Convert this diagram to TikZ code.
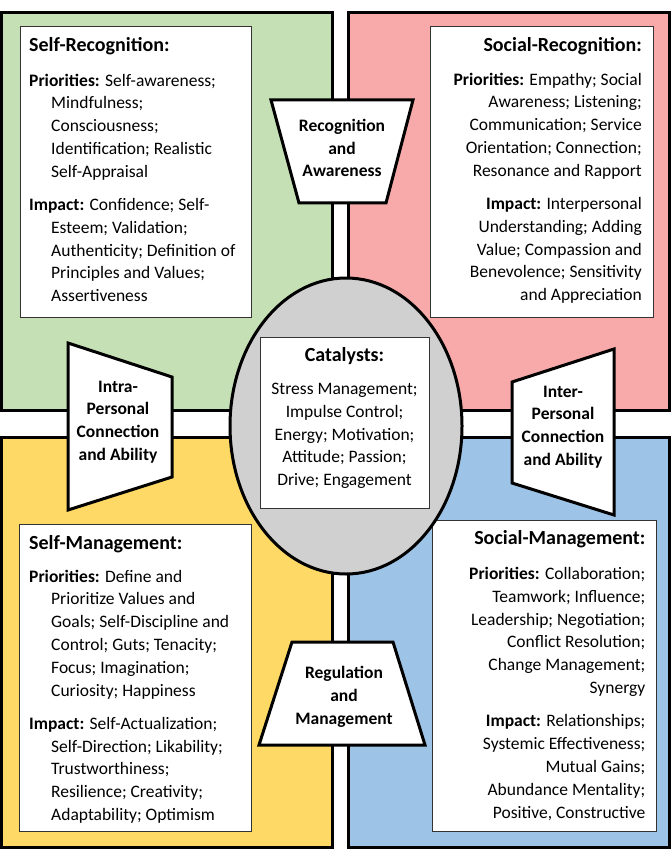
\documentclass[tikz,border=0pt]{standalone}
\usepackage{fontspec}
\setmainfont{Carlito}
\usepackage{xcolor}
\usepackage{tikz}
\definecolor{qgreen}{RGB}{197,224,180}
\definecolor{qpink}{RGB}{248,170,170}
\definecolor{qyellow}{RGB}{255,217,102}
\definecolor{qblue}{RGB}{157,195,230}
\definecolor{hubgray}{RGB}{208,208,208}
\newcommand{\indl}{\hspace*{22pt}}

\begin{document}
\begin{tikzpicture}[
    x=1pt, y=-1pt,
    quadrant/.style={draw, line width=3pt},
    textbox/.style={draw=black!80, line width=1pt, fill=white, inner sep=0pt, outer sep=0pt, anchor=north west},
    hub/.style={draw, fill=hubgray, line width=3pt},
    gate/.style={draw, line width=3pt, fill=white},
    heading/.style={font=\fontsize{20}{24}\selectfont\bfseries, inner sep=0pt},
    body/.style={font=\fontsize{17.5}{22.8}\selectfont, inner sep=0pt},
    gatelabel/.style={font=\fontsize{17.5}{22.8}\selectfont\bfseries, align=center, inner sep=0pt}
]
    \useasboundingbox (0,0) rectangle (671,850);

    % Four coloured quadrants
    \foreach \col/\xa/\ya/\xb/\yb in {
        qgreen/1.5/12.5/332/410.5,
        qpink/348/12.5/669.5/410.5,
        qyellow/1.5/437/332/847.5,
        qblue/348/437/669.5/847.5
    } {
        \draw[quadrant, fill=\col] (\xa,\ya) rectangle (\xb,\yb);
    }

    % White text boxes
    \node[textbox, minimum width=231pt, minimum height=290pt] (srbox) at (20,27) {};
    \node[textbox, minimum width=223pt, minimum height=290pt] (prbox) at (430,27) {};
    \node[textbox, minimum width=232pt, minimum height=307pt] (smbox) at (19,524) {};
    \node[textbox, minimum width=224pt, minimum height=311pt] (pmbox) at (432,520) {};

    % Self-Recognition
    \node[heading, anchor=base west] (srhead) at (29,51.5) {Self-Recognition:};
    \node[body, align=left, anchor=north west] (srtext) at (29,73.5) {%
        \textbf{Priorities:} Self-awareness;\\
        \indl Mindfulness;\\
        \indl Consciousness;\\
        \indl Identification; Realistic\\
        \indl Self-Appraisal\\[10.5pt]
        \textbf{Impact:} Confidence; Self-\\
        \indl Esteem; Validation;\\
        \indl Authenticity; Definition of\\
        \indl Principles and Values;\\
        \indl Assertiveness};

    % Social-Recognition
    \node[heading, anchor=base east] (prhead) at (642,51.5) {Social-Recognition:};
    \node[body, align=right, anchor=north east] (prtext) at (642,72.5) {%
        \textbf{Priorities:} Empathy; Social\\
        Awareness; Listening;\\
        Communication; Service\\
        Orientation; Connection;\\
        Resonance and Rapport\\[10.5pt]
        \textbf{Impact:} Interpersonal\\
        Understanding; Adding\\
        Value; Compassion and\\
        Benevolence; Sensitivity\\
        and Appreciation};

    % Self-Management
    \node[heading, anchor=base west] (smhead) at (29,549) {Self-Management:};
    \node[body, align=left, anchor=north west] (smtext) at (29,569.5) {%
        \textbf{Priorities:} Define and\\
        \indl Prioritize Values and\\
        \indl Goals; Self-Discipline and\\
        \indl Control; Guts; Tenacity;\\
        \indl Focus; Imagination;\\
        \indl Curiosity; Happiness\\[10.5pt]
        \textbf{Impact:} Self-Actualization;\\
        \indl Self-Direction; Likability;\\
        \indl Trustworthiness;\\
        \indl Resilience; Creativity;\\
        \indl Adaptability; Optimism};

    % Social-Management
    \node[heading, anchor=base east] (pmhead) at (645.5,544.5) {Social-Management:};
    \node[body, align=right, anchor=north east] (pmtext) at (645.5,567) {%
        \textbf{Priorities:} Collaboration;\\
        Teamwork; Influence;\\
        Leadership; Negotiation;\\
        Conflict Resolution;\\
        Change Management;\\
        Synergy\\[10.5pt]
        \textbf{Impact:} Relationships;\\
        Systemic Effectiveness;\\
        Mutual Gains;\\
        Abundance Mentality;\\
        Positive, Constructive};

    % Catalysts in the middle
    \draw[hub] (346,426) ellipse [x radius=116pt, y radius=148pt];
    \node[textbox, minimum width=169pt, minimum height=171pt] (catbox) at (260,337) {};
    \node[heading, anchor=base] (cathead) at (344.5,361.5) {Catalysts:};
    \node[body, align=center, anchor=north] (cattext) at (344.5,383) {%
        Stress Management;\\
        Impulse Control;\\
        Energy; Motivation;\\
        Attitude; Passion;\\
        Drive; Engagement};

    % Trapezoid gates between quadrants
    \draw[gate] (271,100) -- (413,100) -- (386,203) -- (299,203) -- cycle;
    \draw[gate] (292,642) -- (393,642) -- (425,745) -- (259,745) -- cycle;
    \draw[gate] (68,343) -- (172,377) -- (172,477) -- (68,510) -- cycle;
    \draw[gate] (512,382) -- (614,349) -- (614,515) -- (512,483) -- cycle;

    \node[gatelabel] (recog) at (342,148) {Recognition\\and\\Awareness};
    \node[gatelabel] (regul) at (344,697) {Regulation\\and\\Management};
    \node[gatelabel] (intra) at (118,422) {Intra-\\Personal\\Connection\\and Ability};
    \node[gatelabel] (inter) at (563,427) {Inter-\\Personal\\Connection\\and Ability};
\end{tikzpicture}
\end{document}
